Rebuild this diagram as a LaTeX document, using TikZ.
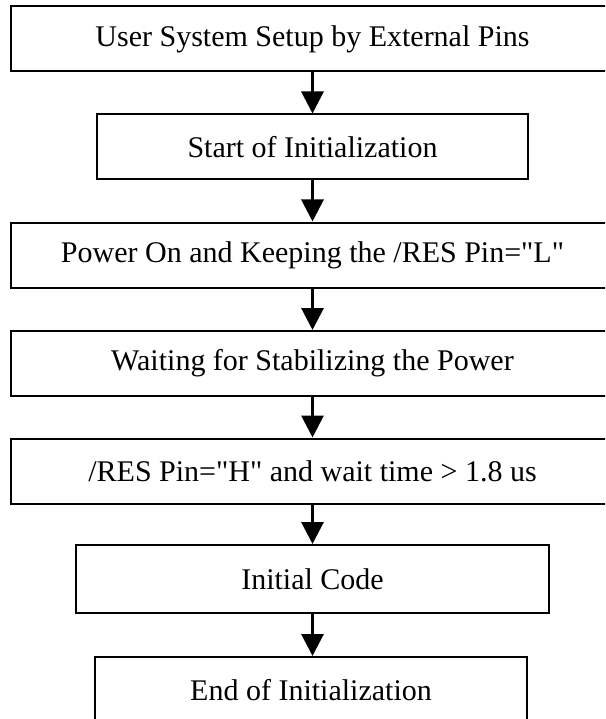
\documentclass[tikz,border=0pt]{standalone}
\usepackage{fontspec}
\setmainfont{Liberation Serif}[Ligatures=TeXOff]
\usetikzlibrary{arrows.meta}
\begin{document}
\begin{tikzpicture}[x=1pt,y=-1pt,
  stepbox/.style={draw=black, line width=2pt, minimum height=65pt, inner sep=0pt, font=\fontsize{30}{36}\selectfont, fill=white},
  wide/.style={stepbox, minimum width=603pt},
  flow/.style={-{Triangle[width=22pt,length=22pt]}, line width=3pt}]
\useasboundingbox (0,0) rectangle (605,719);
\clip (0,0) rectangle (605,719);
\node[wide] (b1) at (312.5,39) {User System Setup by External Pins};
\node[stepbox, minimum width=431pt] (b2) at (312.5,147) {Start of Initialization};
\node[wide] (b3) at (312.5,255) {Power On and Keeping the /RES Pin="L"};
\node[wide] (b4) at (312.5,363.5) {Waiting for Stabilizing the Power};
\node[wide] (b5) at (312.5,471) {/RES Pin="H" and wait time > 1.8 us};
\node[stepbox, minimum width=473pt, minimum height=68pt] (b6) at (312.5,579) {Initial Code};
\node[stepbox, minimum width=432pt, minimum height=66pt] (b7) at (311,690) {End of Initialization};
\draw[flow] (b1) -- (b2);
\draw[flow] (b2) -- (b3);
\draw[flow] (b3) -- (b4);
\draw[flow] (b4) -- (b5);
\draw[flow] (b5) -- (b6);
\draw[flow] (b6.south) -- (b6.south |- b7.north);
\end{tikzpicture}
\end{document}
